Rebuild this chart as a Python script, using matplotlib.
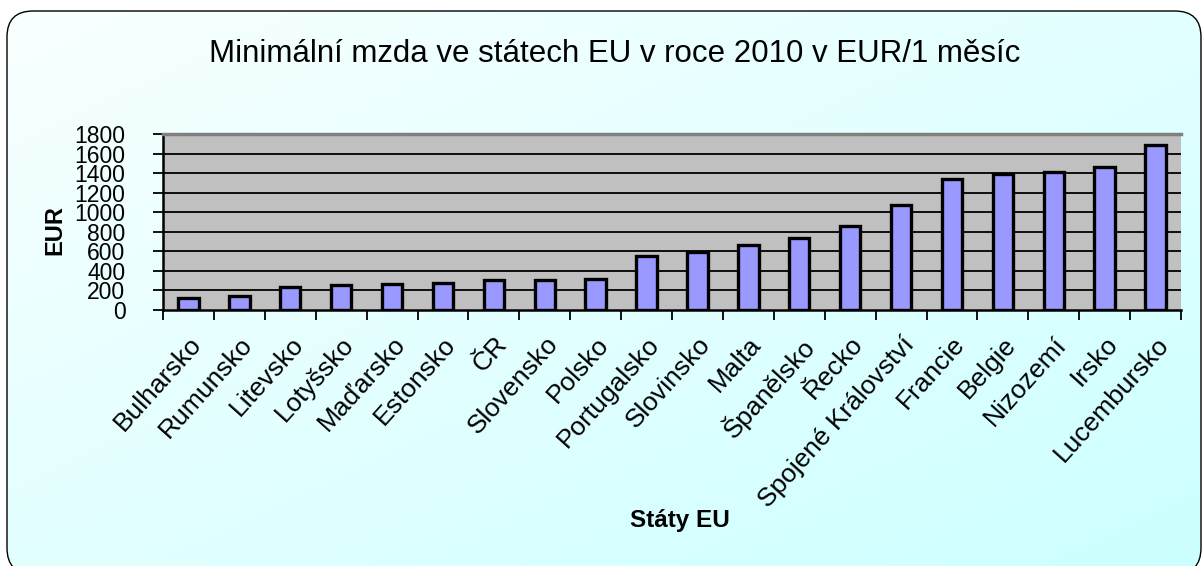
import matplotlib.pyplot as plt
import numpy as np
from matplotlib.patches import FancyBboxPatch

# minimum monthly wage in EU states, 2010 (EUR)
states = [
    "Bulharsko", "Rumunsko", "Litevsko", "Lotyšsko", "Maďarsko", "Estonsko",
    "ČR", "Slovensko", "Polsko", "Portugalsko", "Slovinsko", "Malta",
    "Španělsko", "Řecko", "Spojené Království", "Francie", "Belgie",
    "Nizozemí", "Irsko", "Lucembursko",
]
wages = [123, 142, 232, 254, 271, 278, 302, 308, 321, 554, 597, 660,
         739, 863, 1076, 1344, 1387, 1408, 1462, 1683]
y_ticks = [0, 200, 400, 600, 800, 1000, 1200, 1400, 1600, 1800]

plt.rcParams["font.family"] = ["Liberation Sans", "DejaVu Sans"]

W, H = 1203, 566
fig = plt.figure(figsize=(W / 100, H / 100), dpi=100)
fig.patch.set_facecolor("white")

# rounded frame with a soft cyan gradient (bottom edge runs off the canvas)
bg = fig.add_axes([0, 0, 1, 1], zorder=-10)
bg.set_xlim(0, W)
bg.set_ylim(0, H)
bg.axis("off")
gx, gy = np.meshgrid(np.linspace(0, 1, 300), np.linspace(0, 1, 150))
t = np.clip(0.5 * gx + 0.5 * gy, 0, 1)
c0 = np.array([0.98, 1.0, 1.0])
c1 = np.array([0.80, 1.0, 1.0])
grad = c0[None, None, :] * (1 - t[..., None]) + c1[None, None, :] * t[..., None]
frame = FancyBboxPatch((7, -8), 1194, H - 11 + 8,
                       boxstyle="round,pad=0,rounding_size=26",
                       facecolor="none", edgecolor="black", linewidth=1.0,
                       transform=bg.transData)
img = bg.imshow(grad, extent=[0, W, 0, H], origin="upper", aspect="auto",
                interpolation="bilinear")
img.set_clip_path(frame)
bg.add_patch(frame)

ax = fig.add_axes([163 / W, 1 - 310 / H, (1181 - 163) / W, (310 - 134) / H])
ax.set_facecolor("#c0c0c0")
x = np.arange(len(states))
ax.bar(x, wages, width=0.4, color="#9999ff", edgecolor="black", linewidth=2.4, zorder=3)

ax.set_xlim(-0.5, len(states) - 0.5)
ax.set_ylim(0, 1800)
ax.set_yticks(y_ticks)
ax.set_yticklabels([str(v) for v in y_ticks], fontsize=16.5)
for v in y_ticks[1:-1]:
    ax.axhline(v, color="black", linewidth=1.3, zorder=1)

ax.set_xticks(x)
ax.set_xticklabels(states, fontsize=19, rotation=48, ha="right",
                   rotation_mode="anchor")
ax.set_xticks(np.arange(len(states) + 1) - 0.5, minor=True)
ax.tick_params(axis="x", which="major", length=0, pad=16)
ax.tick_params(axis="x", which="minor", length=7, width=1.3, direction="out")
ax.tick_params(axis="y", length=7, width=1.3, direction="out", pad=20)

for side in ("left", "bottom"):
    ax.spines[side].set_linewidth(1.8)
ax.spines["top"].set_color("#808080")
ax.spines["top"].set_linewidth(2.5)
ax.spines["right"].set_visible(False)

fig.text(615 / W, 1 - 54 / H, "Minimální mzda ve státech EU v roce 2010 v EUR/1 měsíc",
         ha="center", va="center", fontsize=22.5)
fig.text(55 / W, 1 - 230 / H, "EUR", rotation=90, ha="center", va="center",
         fontsize=17, fontweight="bold")
fig.text(680 / W, 1 - 520 / H, "Státy EU", ha="center", va="center",
         fontsize=17.5, fontweight="bold")

fig.savefig("out.png", dpi=100)
